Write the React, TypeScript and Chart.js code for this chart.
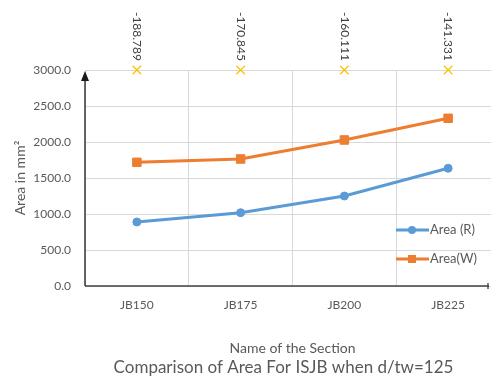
import React, { useEffect, useRef } from "react";
import { Chart, registerables } from "chart.js";

Chart.register(...registerables);

const categories = ["JB150", "JB175", "JB200", "JB225"];
const areaR = [889, 1018, 1250, 1635];
const areaW = [1718, 1764, 2028, 2329];
const markerLevel = [3000, 3000, 3000, 3000];
const markerLabels = ["-188.789", "-170.845", "-160.111", "-141.331"];
const yTicks = [0, 500, 1000, 1500, 2000, 2500, 3000];
const chartTitle = "Comparison of Area For ISJB when d/tw=125";

const FONT = "Lato, 'Open Sans', sans-serif";
const BLUE = "#5B9BD5";
const ORANGE = "#ED7D31";
const GOLD = "#FFC000";
const TXT = "#595959";

const W = 567;
const H = 378;
const AREA_LEFT = 85;
const AREA_TOP = 70;
const AREA_BOTTOM = 286;
const AREA_RIGHT = 500;
const TITLE_SPACE = 20;

const decorPlugin = {
  id: "decor",
  afterDatasetsDraw(chart: any) {
    const ctx = chart.ctx as CanvasRenderingContext2D;
    const ca = chart.chartArea;
    // Axis lines with arrows
    ctx.save();
    ctx.strokeStyle = "#1a1a1a";
    ctx.fillStyle = "#1a1a1a";
    ctx.lineWidth = 1.3;
    ctx.beginPath();
    ctx.moveTo(ca.left, ca.bottom);
    ctx.lineTo(ca.left, ca.top + 4);
    ctx.stroke();
    ctx.beginPath();
    ctx.moveTo(ca.left, ca.top + 1);
    ctx.lineTo(ca.left - 4, ca.top + 11);
    ctx.lineTo(ca.left + 4, ca.top + 11);
    ctx.closePath();
    ctx.fill();
    ctx.strokeStyle = "#404040";
    ctx.beginPath();
    ctx.moveTo(ca.left, ca.bottom);
    ctx.lineTo(489, ca.bottom);
    ctx.stroke();
    ctx.beginPath();
    ctx.moveTo(488, ca.bottom - 3);
    ctx.lineTo(488, ca.bottom + 3);
    ctx.stroke();
    ctx.restore();

    // Rotated data labels on marker series
    const meta = chart.getDatasetMeta(2);
    ctx.save();
    ctx.fillStyle = "#404040";
    ctx.font = `12px ${FONT}`;
    meta.data.forEach((pt: any, i: number) => {
      ctx.save();
      ctx.translate(pt.x, pt.y - 9);
      ctx.rotate(Math.PI / 2);
      ctx.textAlign = "right";
      ctx.textBaseline = "middle";
      ctx.fillText(markerLabels[i], 0, 0);
      ctx.restore();
    });
    ctx.restore();

    // Legend inside plot area
    const items = [0, 1].map((i) => chart.data.datasets[i]);
    const rows = [230, 259];
    ctx.save();
    items.forEach((ds: any, i: number) => {
      const y = rows[i];
      ctx.strokeStyle = ds.borderColor;
      ctx.lineWidth = 3;
      ctx.beginPath();
      ctx.moveTo(396, y);
      ctx.lineTo(429, y);
      ctx.stroke();
      ctx.fillStyle = ds.borderColor;
      if (ds.pointStyle === "rect") {
        ctx.fillRect(408, y - 4, 8, 8);
      } else {
        ctx.beginPath();
        ctx.arc(412, y, 4, 0, Math.PI * 2);
        ctx.fill();
      }
      ctx.fillStyle = TXT;
      ctx.font = `13px ${FONT}`;
      ctx.textAlign = "left";
      ctx.textBaseline = "middle";
      ctx.fillText(ds.label, 430, y);
    });
    ctx.restore();

    // Chart title at bottom
    ctx.save();
    ctx.fillStyle = TXT;
    ctx.font = `17px ${FONT}`;
    ctx.textAlign = "center";
    ctx.textBaseline = "middle";
    ctx.fillText(chartTitle, 283.5, 367.5);
    ctx.restore();
  },
};

export default function App() {
  const ref = useRef<HTMLCanvasElement | null>(null);

  useEffect(() => {
    if (!ref.current) return;
    const chart = new Chart(ref.current, {
      type: "line",
      data: {
        labels: categories,
        datasets: [
          {
            label: "Area (R)",
            data: areaR,
            borderColor: BLUE,
            backgroundColor: BLUE,
            borderWidth: 3,
            pointStyle: "circle",
            pointRadius: 4,
            pointBorderWidth: 1,
            tension: 0,
          },
          {
            label: "Area(W)",
            data: areaW,
            borderColor: ORANGE,
            backgroundColor: ORANGE,
            borderWidth: 3,
            pointStyle: "rect",
            pointRadius: 6,
            pointBorderWidth: 1,
            tension: 0,
          },
          {
            label: "Stress",
            data: markerLevel,
            showLine: false,
            borderColor: GOLD,
            backgroundColor: GOLD,
            pointStyle: "crossRot",
            pointRadius: 6,
            pointBorderWidth: 1.2,
            clip: false as any,
          },
        ],
      },
      options: {
        animation: false,
        responsive: false,
        devicePixelRatio: 1,
        layout: {
          padding: { top: AREA_TOP, left: 0, right: W - AREA_RIGHT, bottom: TITLE_SPACE },
        },
        plugins: {
          legend: { display: false },
          tooltip: { enabled: false },
          title: { display: false },
        },
        scales: {
          x: {
            offset: true,
            grid: {
              display: true,
              offset: true,
              color: "#D9D9D9",
              drawTicks: false,
            },
            border: { display: false },
            ticks: {
              color: TXT,
              font: { family: FONT, size: 12 },
              padding: 12,
              maxRotation: 0,
            },
            title: {
              display: true,
              text: "Name of the Section",
              color: TXT,
              font: { family: FONT, size: 14 },
              padding: { top: 0, bottom: 1 },
            },
            afterFit: (s: any) => {
              s.height = H - AREA_BOTTOM - TITLE_SPACE;
            },
          },
          y: {
            min: 0,
            max: 3000,
            grid: { color: "#D9D9D9", drawTicks: false },
            border: { display: false },
            afterBuildTicks: (s: any) => {
              s.ticks = yTicks.map((v) => ({ value: v }));
            },
            ticks: {
              color: TXT,
              font: { family: FONT, size: 12 },
              padding: 14,
              callback: (v: any) => Number(v).toFixed(1),
            },
            title: {
              display: true,
              text: "Area in mm²",
              color: TXT,
              font: { family: FONT, size: 14 },
              padding: { top: 12, bottom: 0 },
            },
            afterFit: (s: any) => {
              s.width = AREA_LEFT;
            },
          },
        },
      },
      plugins: [decorPlugin],
    } as any);
    return () => chart.destroy();
  }, []);

  return (
    <div
      style={{
        position: "absolute",
        left: 0,
        top: 0,
        width: 491,
        height: 378,
        overflow: "hidden",
        background: "#fff",
      }}
    >
      <canvas ref={ref} width={W} height={H} style={{ width: W, height: H, display: "block" }} />
    </div>
  );
}
